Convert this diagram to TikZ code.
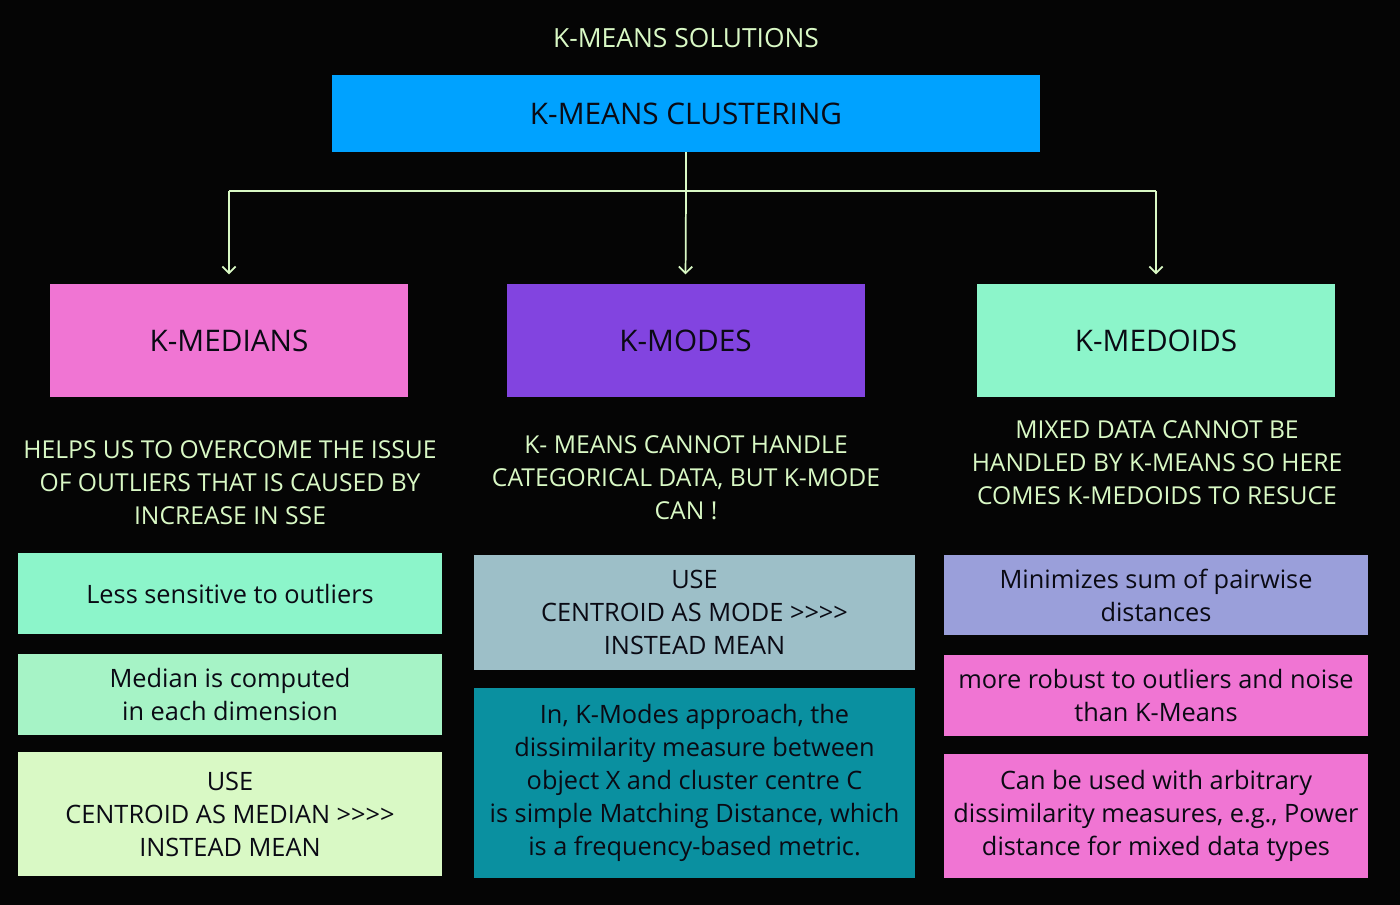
\documentclass[tikz,border=0pt]{standalone}
\usepackage{fontspec}
\setmainfont{Open Sans}[Ligatures=TeXOff]
\usetikzlibrary{arrows.meta}
\definecolor{bg}{HTML}{050505}
\definecolor{cblue}{HTML}{00A2FF}
\definecolor{cpink}{HTML}{F075D3}
\definecolor{cpurple}{HTML}{8244E0}
\definecolor{cmint}{HTML}{8CF5CA}
\definecolor{cpale}{HTML}{D9F9C5}
\definecolor{cmint2}{HTML}{A6F3C6}
\definecolor{cgray}{HTML}{9DBFC8}
\definecolor{cteal}{HTML}{0A90A0}
\definecolor{clav}{HTML}{9A9FDA}
\definecolor{ink}{HTML}{0A0A14}
\tikzset{
  box/.style={draw=none, inner sep=0pt, align=center, text=ink, font=\fontsize{19}{24.75}\selectfont},
  head/.style={box, font=\fontsize{22.3}{26}\selectfont},
  lbl/.style={inner sep=0pt, align=center, text=cpale, font=\fontsize{18.5}{24.75}\selectfont},
  conn/.style={draw=cpale, line width=1.3pt},
  arr/.style={conn, -{Straight Barb[length=5pt,width=10pt,line width=1.3pt]}, shorten >=7pt},
}
\begin{document}
\begin{tikzpicture}[x=0.75pt,y=-0.75pt]
\fill[bg] (0,0) rectangle (1400,905);
\useasboundingbox (0,0) rectangle (1400,905);

\node[lbl, font=\fontsize{19.8}{22}\selectfont] (title) at (686,38) {K-MEANS SOLUTIONS};
\node[head, fill=cblue, minimum width=531pt, minimum height=57.75pt] (top) at (686,113.5) {K-MEANS CLUSTERING};

\node[head, fill=cpink, minimum width=268.5pt, minimum height=84.75pt] (kmed) at (229,340.5) {K-MEDIANS};
\node[head, fill=cpurple, minimum width=268.5pt, minimum height=84.75pt] (kmod) at (685.5,340.5) {K-MODES};
\node[head, fill=cmint, minimum width=268.5pt, minimum height=84.75pt] (kmdd) at (1156,340.5) {K-MEDOIDS};

\coordinate (j) at (686,191);
\draw[conn] (top.south) -- (j);
\draw[conn] (kmed.north |- j) -- (kmdd.north |- j);
\draw[arr] (kmed.north |- j) -- (kmed.north);
\draw[arr] (j) -- (kmod.north);
\draw[arr] (kmdd.north |- j) -- (kmdd.north);

\node[lbl] (d1) at (230,483) {HELPS US TO OVERCOME THE ISSUE\\OF OUTLIERS THAT IS CAUSED BY\\INCREASE IN SSE};
\node[lbl] (d2) at (686,478) {K- MEANS CANNOT HANDLE\\CATEGORICAL DATA, BUT K-MODE\\CAN !};
\node[lbl] (d3) at (1157,463) {MIXED DATA CANNOT BE\\HANDLED BY K-MEANS SO HERE\\COMES K-MEDOIDS TO RESUCE};

\node[box, fill=cmint, minimum width=318pt, minimum height=60.75pt] (l1) at (230,593.5) {Less sensitive to outliers};
\node[box, fill=cmint2, minimum width=318pt, minimum height=60.75pt] (l2) at (230,694.5) {Median is computed\\in each dimension};
\node[box, fill=cpale, minimum width=318pt, minimum height=93pt] (l3) at (230,814) {USE\\CENTROID AS MEDIAN >>>>\\INSTEAD MEAN};

\node[box, fill=cgray, minimum width=330.75pt, minimum height=86.25pt] (m1) at (694.5,612.5) {USE\\CENTROID AS MODE >>>>\\INSTEAD MEAN};
\node[box, fill=cteal, minimum width=330.75pt, minimum height=142.5pt] (m2) at (694.5,783) {In, K-Modes approach, the\\dissimilarity measure between\\object X and cluster centre C\\is simple Matching Distance, which\\is a frequency-based metric.};

\node[box, fill=clav, minimum width=318pt, minimum height=60pt] (r1) at (1156,595) {Minimizes sum of pairwise\\distances};
\node[box, fill=cpink, minimum width=318pt, minimum height=60.75pt] (r2) at (1156,695.5) {more robust to outliers and noise\\than K-Means};
\node[box, fill=cpink, minimum width=318pt, minimum height=93pt] (r3) at (1156,816) {Can be used with arbitrary\\dissimilarity measures, e.g., Power\\distance for mixed data types};
\end{tikzpicture}
\end{document}
